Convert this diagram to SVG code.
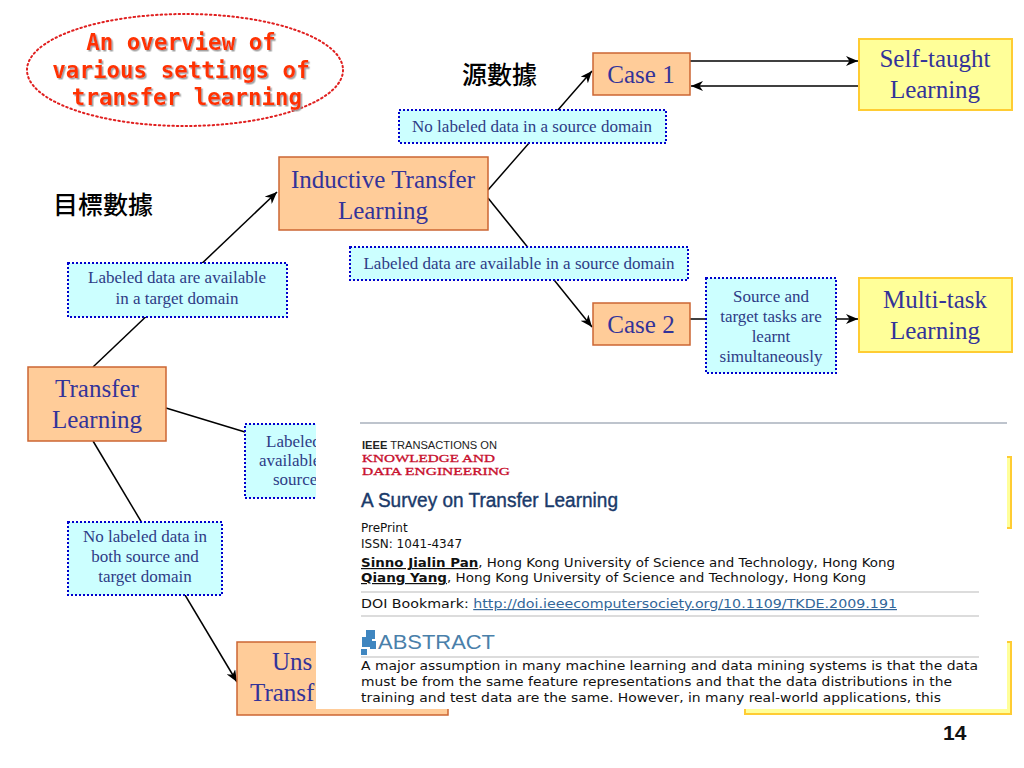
<svg xmlns="http://www.w3.org/2000/svg" width="1024" height="768" viewBox="0 0 1024 768">
<defs>
<marker id="arr" viewBox="0 0 12 10" refX="12" refY="5" markerWidth="12" markerHeight="10" markerUnits="userSpaceOnUse" orient="auto"><path d="M0,0 L12,5 L0,10 L3.5,5 Z" fill="#000"/></marker>
<filter id="sh" x="-10%" y="-10%" width="120%" height="130%"><feDropShadow dx="1.5" dy="1.5" stdDeviation="0.6" flood-color="#999" flood-opacity="0.9"/></filter>
<clipPath id="leftof"><rect x="0" y="0" width="316" height="768"/></clipPath>
</defs>
<style>
.node{fill:#FFCC99;stroke:#CC6633;stroke-width:1.5}
.ynode{fill:#FFFF99;stroke:#FFCC33;stroke-width:2}
.lab{fill:#CCFFFF;stroke:#0000CC;stroke-width:2;stroke-dasharray:2 2}
.nt{font-family:"Liberation Serif","Times New Roman",serif;font-size:25px;fill:#333399;text-anchor:middle}
.lt{font-family:"Liberation Serif","Times New Roman",serif;font-size:17px;fill:#2E3C86;text-anchor:middle}
.cn{stroke:#000;stroke-width:1.5;fill:none}
.cjk{font-family:"Noto Sans CJK TC","Noto Sans CJK SC",sans-serif;font-size:25px;font-weight:500;fill:#000}
.tt{font-family:"DejaVu Sans Mono","Liberation Mono",monospace;font-weight:bold;font-size:22.5px;fill:#FF3300;text-anchor:middle}
.v{font-family:"DejaVu Sans","Verdana",sans-serif;font-size:12px;fill:#111}
.gl{stroke:#D0D0D0;stroke-width:1.5}
.red{font-family:"Liberation Serif","Times New Roman",serif;font-size:11px;fill:#C8102E;stroke:#C8102E;stroke-width:0.3}
</style>
<rect width="1024" height="768" fill="#fff"/>

<g id="title">
<ellipse cx="185" cy="70" rx="158" ry="56" fill="none" stroke="#E02020" stroke-width="2" stroke-dasharray="1.5 3" stroke-linecap="round"/>
<g filter="url(#sh)">
<text class="tt" x="181" y="50">An overview of</text>
<text class="tt" x="181" y="78">various settings of</text>
<text class="tt" x="187" y="105">transfer learning</text>
</g>
</g>

<text class="cjk" x="462" y="84">源數據</text>
<text class="cjk" x="53" y="214">目標數據</text>

<g id="connectors">
<path class="cn" d="M93,367 L277,192" marker-end="url(#arr)"/>
<path class="cn" d="M166,408 L245,432"/>
<path class="cn" d="M93,441 L237,682" marker-end="url(#arr)"/>
<path class="cn" d="M488,190 L592,71" marker-end="url(#arr)"/>
<path class="cn" d="M488,198 L592,327" marker-end="url(#arr)"/>
<path class="cn" d="M690,61 L858,61" marker-end="url(#arr)"/>
<path class="cn" d="M859,86 L691,86" marker-end="url(#arr)"/>
<path class="cn" d="M690,319 L706,319"/>
<path class="cn" d="M836,319 L858,319" marker-end="url(#arr)"/>
</g>

<g id="transfer-learning"><rect class="node" x="28" y="367" width="138" height="74"/><text class="nt" x="97" y="397">Transfer</text><text class="nt" x="97" y="428">Learning</text></g>
<g id="inductive"><rect class="node" x="279" y="157" width="209" height="73"/><text class="nt" x="383" y="188">Inductive Transfer</text><text class="nt" x="383" y="219">Learning</text></g>
<g id="case1"><rect class="node" x="593" y="53" width="97" height="42"/><text class="nt" x="641" y="83">Case 1</text></g>
<g id="case2"><rect class="node" x="593" y="303" width="97" height="42"/><text class="nt" x="641" y="333">Case 2</text></g>
<g id="self-taught"><rect class="ynode" x="859" y="39" width="153" height="71"/><text class="nt" x="935" y="67">Self-taught</text><text class="nt" x="935" y="98">Learning</text></g>
<g id="multi-task"><rect class="ynode" x="859" y="278" width="153" height="74"/><text class="nt" x="935" y="308">Multi-task</text><text class="nt" x="935" y="339">Learning</text></g>
<g id="unsupervised"><rect class="node" x="237" y="642" width="211" height="73"/><g clip-path="url(#leftof)"><text class="nt" x="272" y="670" style="text-anchor:start">Uns</text><text class="nt" x="250" y="701" style="text-anchor:start">Transf</text></g></g>
<g id="hidden-yellow-1"><rect class="ynode" x="858" y="457" width="153" height="71"/></g>
<g id="hidden-yellow-2"><rect class="ynode" x="745" y="642" width="266" height="72"/></g>

<g id="label-target"><rect class="lab" x="68" y="263" width="219" height="54"/><text class="lt" x="177" y="283">Labeled data are available</text><text class="lt" x="177" y="304">in a target domain</text></g>
<g id="label-no-source"><rect class="lab" x="399" y="110" width="267" height="33"/><text class="lt" x="532" y="132">No labeled data in a source domain</text></g>
<g id="label-source"><rect class="lab" x="350" y="247" width="338" height="33"/><text class="lt" x="519" y="269">Labeled data are available in a source domain</text></g>
<g id="label-simul"><rect class="lab" x="706" y="278" width="130" height="95"/><text class="lt" x="771" y="302">Source and</text><text class="lt" x="771" y="322">target tasks are</text><text class="lt" x="771" y="342">learnt</text><text class="lt" x="771" y="362">simultaneously</text></g>
<g id="label-only-source"><rect class="lab" x="245" y="424" width="142" height="74"/><g clip-path="url(#leftof)"><text class="lt" x="266" y="447" style="text-anchor:start">Labeled</text><text class="lt" x="259" y="466" style="text-anchor:start">available</text><text class="lt" x="273" y="485" style="text-anchor:start">source</text></g></g>
<g id="label-no-both"><rect class="lab" x="68" y="522" width="154" height="73"/><text class="lt" x="145" y="542">No labeled data in</text><text class="lt" x="145" y="562">both source and</text><text class="lt" x="145" y="582">target domain</text></g>

<g id="screenshot">
<rect x="316" y="405" width="691" height="304" fill="#fff"/>
<line x1="360" y1="423" x2="1007" y2="423" stroke="#A8B0BC" stroke-width="1.5"/>
<text x="362" y="449" font-family="'Liberation Sans',Arial,sans-serif" font-size="10px" fill="#222" textLength="135" lengthAdjust="spacingAndGlyphs"><tspan font-weight="bold">IEEE</tspan> TRANSACTIONS ON</text>
<text class="red" x="362" y="462" textLength="133" lengthAdjust="spacingAndGlyphs">KNOWLEDGE AND</text>
<text class="red" x="362" y="475" textLength="148" lengthAdjust="spacingAndGlyphs">DATA ENGINEERING</text>
<text x="361" y="507" font-family="'Liberation Sans',Arial,sans-serif" font-size="20px" fill="#1A3A6A" textLength="257" lengthAdjust="spacingAndGlyphs" stroke="#1A3A6A" stroke-width="0.4">A Survey on Transfer Learning</text>
<text class="v" x="361" y="532">PrePrint</text>
<text class="v" x="361" y="548">ISSN: 1041-4347</text>
<text class="v" x="361" y="567" textLength="534" lengthAdjust="spacingAndGlyphs"><tspan font-weight="bold" text-decoration="underline">Sinno Jialin Pan</tspan>, Hong Kong University of Science and Technology, Hong Kong</text>
<text class="v" x="361" y="582" textLength="505" lengthAdjust="spacingAndGlyphs"><tspan font-weight="bold" text-decoration="underline">Qiang Yang</tspan>, Hong Kong University of Science and Technology, Hong Kong</text>
<line class="gl" x1="361" y1="592" x2="979" y2="592"/>
<text class="v" x="361" y="608" textLength="536" lengthAdjust="spacingAndGlyphs">DOI Bookmark: <tspan fill="#336699" text-decoration="underline">http://doi.ieeecomputersociety.org/10.1109/TKDE.2009.191</tspan></text>
<line class="gl" x1="361" y1="616" x2="979" y2="616"/>
<g fill="#3F86C0">
<rect x="366" y="630" width="9" height="9"/>
<rect x="362" y="637" width="10" height="10"/>
<rect x="370" y="641" width="6" height="8"/>
<rect x="361" y="649" width="6" height="6"/>
</g>
<text x="378" y="649" font-family="'Liberation Sans',Arial,sans-serif" font-size="20px" fill="#4A80AA" textLength="117" lengthAdjust="spacingAndGlyphs">ABSTRACT</text>
<line class="gl" x1="361" y1="657" x2="979" y2="657"/>
<text class="v" x="361" y="670" textLength="617" lengthAdjust="spacingAndGlyphs">A major assumption in many machine learning and data mining systems is that the data</text>
<text class="v" x="361" y="686" textLength="591" lengthAdjust="spacingAndGlyphs">must be from the same feature representations and that the data distributions in the</text>
<text class="v" x="361" y="702" textLength="580" lengthAdjust="spacingAndGlyphs">training and test data are the same. However, in many real-world applications, this</text>
</g>

<text x="943" y="740" font-family="'Liberation Sans',Arial,sans-serif" font-size="21px" font-weight="bold" fill="#111">14</text>
</svg>
